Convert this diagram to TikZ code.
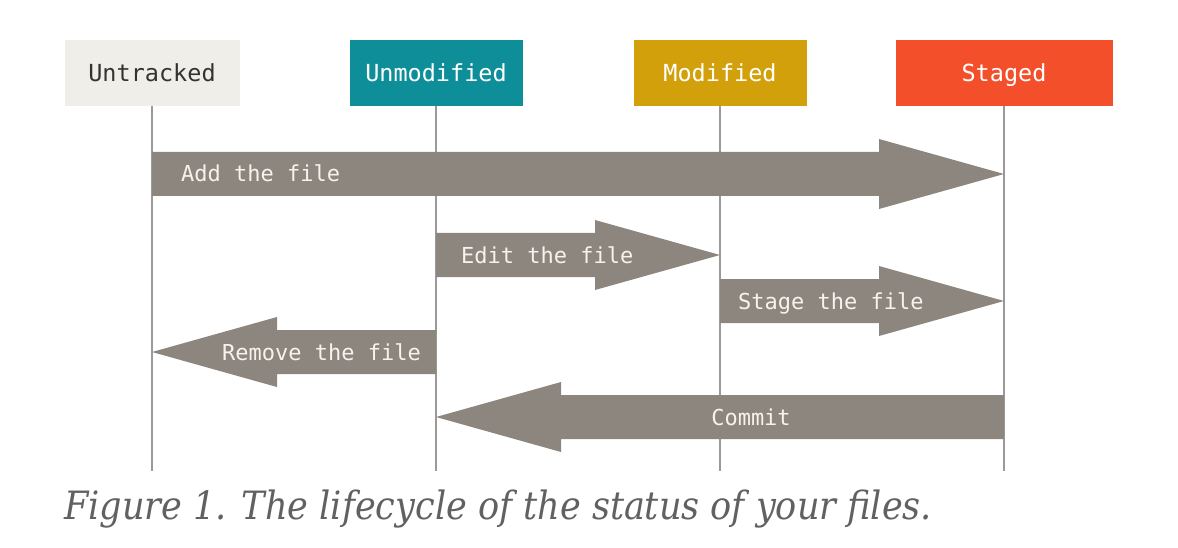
\documentclass[tikz,border=0pt]{standalone}
\usepackage{fontspec}
\setmonofont{DejaVu Sans Mono}
\newfontfamily\captionfont{DejaVu Serif Condensed}
\usetikzlibrary{calc}
\definecolor{untrackedfill}{HTML}{EFEEE8}
\definecolor{unmodifiedfill}{HTML}{0E8E98}
\definecolor{modifiedfill}{HTML}{D2A00A}
\definecolor{stagedfill}{HTML}{F24F2A}
\definecolor{flowgray}{HTML}{8C867E}
\definecolor{lifegray}{HTML}{9A9A9A}
\definecolor{labeltext}{HTML}{F6F3EC}
\definecolor{captiongray}{HTML}{616161}
\tikzset{
  state node/.style={
    minimum height=66pt,
    inner sep=0pt,
    text height=17pt,
    text depth=0pt,
    text=white,
    font=\ttfamily\fontsize{23.5}{24}\selectfont,
  },
  life line/.style={draw=lifegray, line width=1.5pt},
  flow/.style={
    fill=flowgray,
    to path={
      let \p1=(\tikztostart), \p2=(\tikztotarget), \n1={sign(\x2-\x1)} in
      (\x1,\y1+22) -- (\x2-\n1*125,\y1+22) -- (\x2-\n1*125,\y1+35)
      -- (\x2,\y2) -- (\x2-\n1*125,\y1-35) -- (\x2-\n1*125,\y1-22)
      -- (\x1,\y1-22) -- cycle
    },
  },
  flow label/.style={
    inner sep=0pt,
    text height=16pt,
    text depth=0pt,
    text=labeltext,
    font=\ttfamily\fontsize{22}{22}\selectfont,
  },
}

\begin{document}
\begin{tikzpicture}[x=1pt, y=-1pt]
        \useasboundingbox (0,0) rectangle (1178,548);

        \node[state node, fill=untrackedfill, text=black!80, minimum width=175pt] (untracked)  at ( 152,73) {Untracked};
        \node[state node, fill=unmodifiedfill, minimum width=173pt]               (unmodified) at ( 436,73) {Unmodified};
        \node[state node, fill=modifiedfill, minimum width=173pt]                 (modified)   at ( 720,73) {Modified};
        \node[state node, fill=stagedfill, minimum width=217pt]                   (staged)     at (1004,73) {Staged};

        \coordinate (bottom)     at (0,471);
        \coordinate (add row)    at (0,174);
        \coordinate (edit row)   at (0,255);
        \coordinate (stage row)  at (0,301);
        \coordinate (remove row) at (0,352);
        \coordinate (commit row) at (0,417);

        \draw[life line] (untracked.south)  -- (untracked  |- bottom);
        \draw[life line] (unmodified.south) -- (unmodified |- bottom);
        \draw[life line] (modified.south)   -- (modified   |- bottom);
        \draw[life line] (staged.south)     -- (staged     |- bottom);

        \path[flow] (untracked  |- add row)    to (staged     |- add row);
        \path[flow] (unmodified |- edit row)   to (modified   |- edit row);
        \path[flow] (modified   |- stage row)  to (staged     |- stage row);
        \path[flow] (unmodified |- remove row) to (untracked  |- remove row);
        \path[flow] (staged     |- commit row) to (unmodified |- commit row);

        \node[flow label, anchor=west] (add label)    at (181,174) {Add the file};
        \node[flow label, anchor=west] (edit label)   at (461,255) {Edit the file};
        \node[flow label, anchor=west] (stage label)  at (738,301) {Stage the file};
        \node[flow label, anchor=east] (remove label) at (421,352) {Remove the file};
        \node[flow label]              (commit label) at (751,417) {Commit};

        \node[anchor=base west, inner sep=0pt, text=captiongray,
              font=\captionfont\itshape\fontsize{39}{39}\selectfont] (caption) at (64,519)
              {Figure 1. The lifecycle of the status of your files.};
      \end{tikzpicture}
\end{document}
